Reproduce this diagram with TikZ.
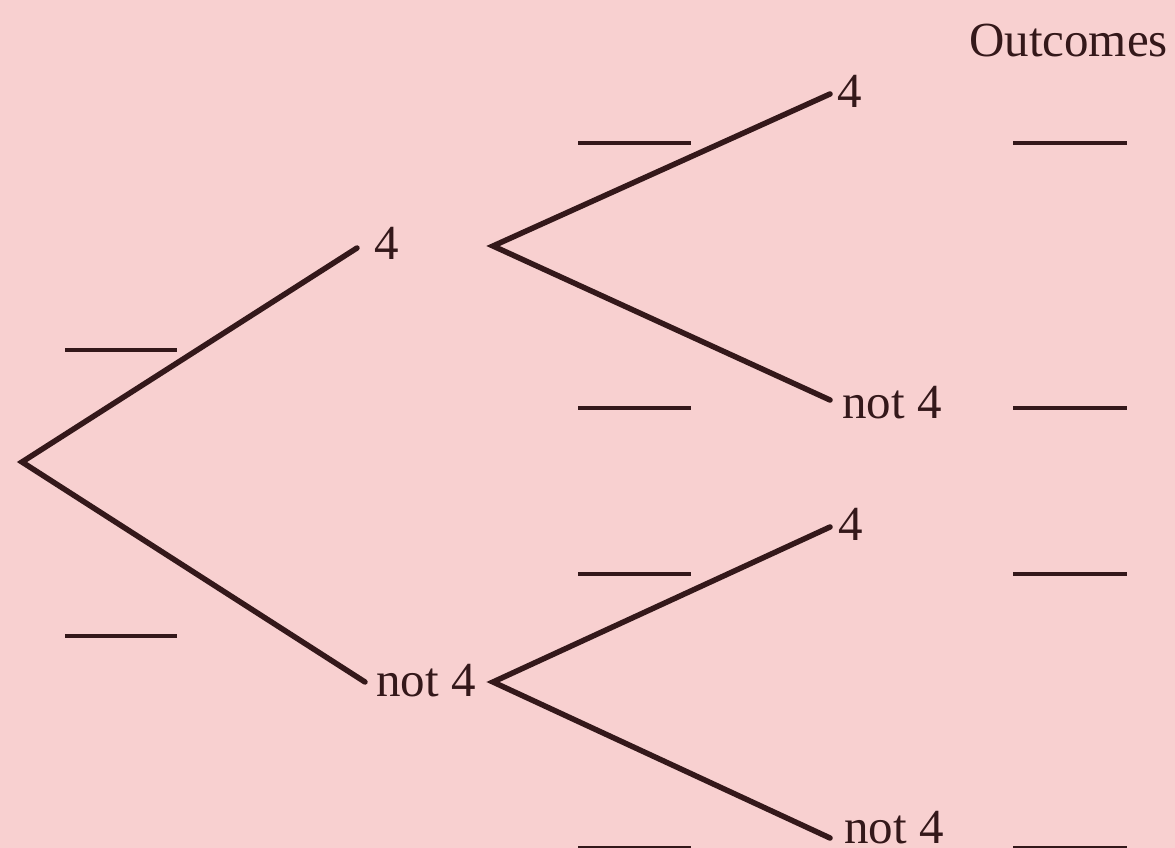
\documentclass[tikz,border=0pt]{standalone}
\usepackage{fontspec}
\setmainfont{Liberation Serif}
\definecolor{bgpink}{RGB}{248,208,208}
\definecolor{ink}{RGB}{52,24,26}
\begin{document}
\begin{tikzpicture}[x=1pt,y=-1pt,
  branch/.style={draw=ink,line width=5.5pt,line cap=round,line join=miter},
  blank/.style={draw=ink,line width=3.5pt},
  lbl/.style={text=ink,font=\fontsize{49}{56}\selectfont,inner sep=0pt,anchor=base west}]
\fill[bgpink] (0,0) rectangle (1175,848);
\useasboundingbox (0,0) rectangle (1175,848);
% vertices
\coordinate (r) at (22,462);
\coordinate (a) at (357,248);
\coordinate (b) at (365,682);
\coordinate (a0) at (493,246);
\coordinate (b0) at (493,682);
\coordinate (aa) at (830,94);
\coordinate (ab) at (830,400);
\coordinate (ba) at (830,527);
\coordinate (bb) at (830,838);
% labels
\node[lbl] (la) at (374,259) {4};
\node[lbl] (lb) at (376,696) {not 4};
\node[lbl] (laa) at (837,108) {4};
\node[lbl] (lab) at (842,418) {not 4};
\node[lbl] (lba) at (838,540) {4};
\node[lbl] (lbb) at (844,843) {not 4};
\node[lbl] (out) at (969,57) {Outcomes};
% branches
\draw[branch] (a) -- (r) -- (b);
\draw[branch] (aa) -- (a0) -- (ab);
\draw[branch] (ba) -- (b0) -- (bb);
% blanks
\foreach \y in {350,636} \draw[blank] (65,\y) -- (177,\y);
\foreach \y in {143,408,574,848} \draw[blank] (578,\y) -- (691,\y);
\foreach \y in {143,408,574,848} \draw[blank] (1013,\y) -- (1127,\y);
\end{tikzpicture}
\end{document}
